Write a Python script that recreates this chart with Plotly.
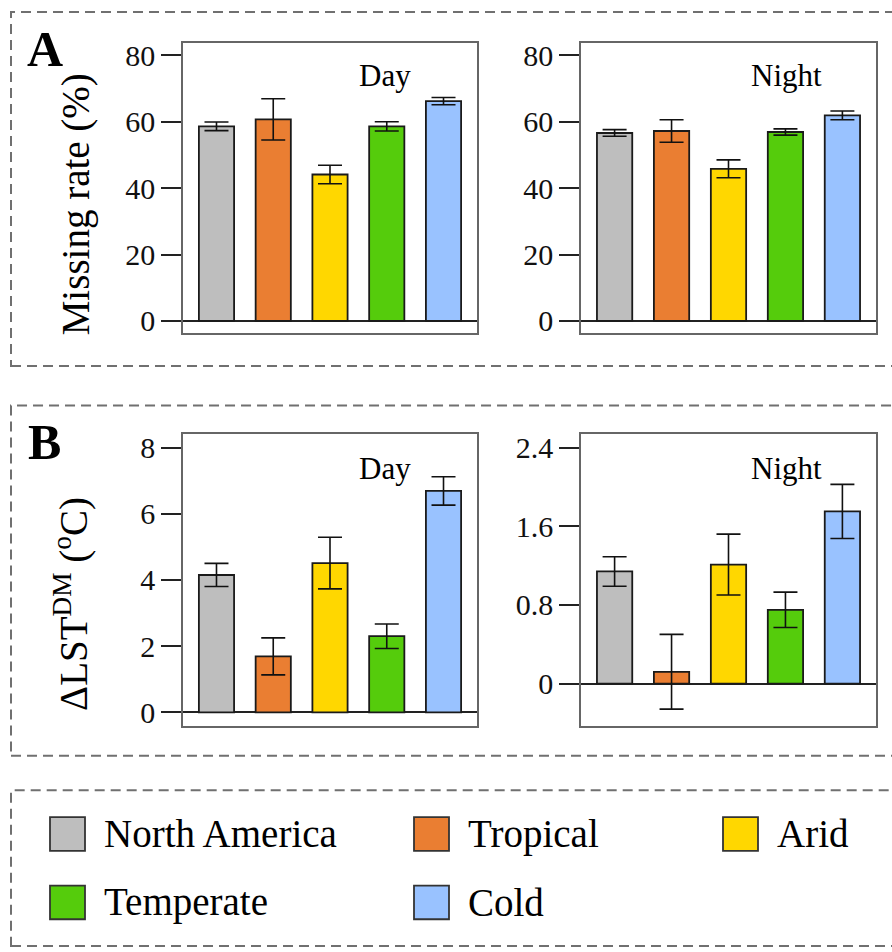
import plotly.graph_objects as go

categories = ["North America", "Tropical", "Arid", "Temperate", "Cold"]
colors = ["#BEBEBE", "#EA7E32", "#FFD700", "#55CC0C", "#99C2FF"]

miss_day = [58.6, 60.7, 44.1, 58.6, 66.2]
miss_day_err = [1.3, 6.2, 2.8, 1.4, 1.1]
miss_night = [56.6, 57.2, 45.8, 56.9, 61.9]
miss_night_err = [1.0, 3.4, 2.7, 0.95, 1.3]
dlst_day = [4.15, 1.69, 4.51, 2.30, 6.69]
dlst_day_err = [0.35, 0.56, 0.78, 0.37, 0.43]
dlst_night = [1.14, 0.12, 1.21, 0.75, 1.75]
dlst_night_err = [0.15, 0.38, 0.31, 0.18, 0.275]

miss_ticks = [0, 20, 40, 60, 80]
dday_ticks = [0, 2, 4, 6, 8]
dnight_ticks = [0, 0.8, 1.6, 2.4]
dnight_ticklabels = ["0", "0.8", "1.6", "2.4"]

W, H = 892, 952
FONT = "Liberation Serif"


def px(x):
    return x / W


def py(y):
    return 1 - y / H


fig = go.Figure()

panels = [
    (miss_day, miss_day_err, "x", "y"),
    (miss_night, miss_night_err, "x2", "y2"),
    (dlst_day, dlst_day_err, "x3", "y3"),
    (dlst_night, dlst_night_err, "x4", "y4"),
]
xpos = list(range(len(categories)))
for vals, errs, xa, ya in panels:
    fig.add_trace(go.Bar(
        x=xpos, y=vals, width=0.62,
        marker=dict(color=colors, line=dict(color="#1a1a1a", width=1.8)),
        error_y=dict(type="data", array=errs, visible=True, color="#111111",
                     thickness=1.6, width=12),
        xaxis=xa, yaxis=ya, showlegend=False,
    ))

xdomL = [px(183), px(477)]
xdomR = [px(581), px(876)]
ydomA = [py(332), py(39)]
ydomB = [py(728), py(434)]

frame = "#666666"


def xax(dom, anchor):
    return dict(domain=dom, anchor=anchor, range=[-0.59, 4.59], showticklabels=False,
                ticks="", showgrid=False, zeroline=False, showline=True,
                linecolor=frame, linewidth=1.5, mirror=True, fixedrange=True)


def yax(dom, anchor, rng, tv, tt=None):
    d = dict(domain=dom, anchor=anchor, range=rng, tickvals=tv, ticks="outside",
             ticklen=20, tickwidth=1.5, tickcolor="#222222", showgrid=False,
             zeroline=True, zerolinecolor="#222222", zerolinewidth=2,
             showline=True, linecolor=frame, linewidth=1.5, mirror=True,
             tickfont=dict(family=FONT, size=30, color="#111111"), fixedrange=True)
    if tt is not None:
        d["ticktext"] = tt
    return d


fig.update_layout(
    width=W, height=H,
    margin=dict(l=0, r=0, t=0, b=0),
    paper_bgcolor="white", plot_bgcolor="white",
    font=dict(family=FONT, color="#111111"),
    xaxis=xax(xdomL, "y"),
    xaxis2=xax(xdomR, "y2"),
    xaxis3=xax(xdomL, "y3"),
    xaxis4=xax(xdomR, "y4"),
    yaxis=yax(ydomA, "x", [-3.7, 83.8], miss_ticks),
    yaxis2=yax(ydomA, "x2", [-3.7, 83.8], miss_ticks),
    yaxis3=yax(ydomB, "x3", [-0.41, 8.40], dday_ticks),
    yaxis4=yax(ydomB, "x4", [-0.43, 2.534], dnight_ticks, dnight_ticklabels),
    showlegend=False,
)

shapes = []
dash = "10px,6px"
for (y0, y1) in [(8, 365), (405, 758), (793, 950)]:
    shapes.append(dict(type="rect", xref="paper", yref="paper",
                       x0=px(11), x1=px(900), y0=py(y1), y1=py(y0),
                       line=dict(color="#707070", width=2, dash=dash),
                       fillcolor="rgba(0,0,0,0)", layer="below"))

annotations = []


def ann(text, x, y, size, xanchor="center", angle=0):
    annotations.append(dict(text=text, x=px(x), y=py(y), xref="paper", yref="paper",
                            xanchor=xanchor, yanchor="middle", showarrow=False,
                            textangle=angle,
                            font=dict(size=size, family=FONT, color="black")))


# panel letters
ann("<b>A</b>", 45, 45, 50)
ann("<b>B</b>", 44, 442, 50)
# y titles
ann("Missing rate (%)", 76, 202, 39, angle=-90)
ann("ΔLST<sup>DM</sup> (<sup>o</sup>C)", 72, 605, 39, angle=-90)
# day / night labels
for txt, cx, cy in [("Day", 385, 72), ("Night", 786, 72), ("Day", 385, 468), ("Night", 786, 468)]:
    ann(txt, cx, cy, 31)

# legend (manual, large swatches)
col_x = [50, 414, 723]
row_y = [837, 906]
for i, (cat, col) in enumerate(zip(categories, colors)):
    r, c = divmod(i, 3)
    sx, sy = col_x[c], row_y[r]
    shapes.append(dict(type="rect", xref="paper", yref="paper",
                       x0=px(sx), x1=px(sx + 35), y0=py(sy + 17), y1=py(sy - 17),
                       line=dict(color="#333333", width=1.8), fillcolor=col))
    ann(cat, sx + 52, sy, 39, xanchor="left")

fig.update_layout(shapes=shapes, annotations=annotations)
fig.write_html("out.html")
